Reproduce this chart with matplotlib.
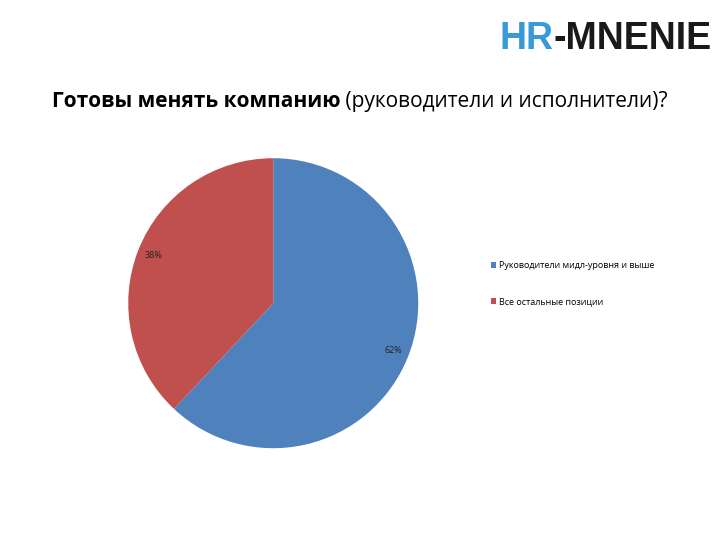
import matplotlib
matplotlib.use('Agg')
import matplotlib.pyplot as plt
from matplotlib.offsetbox import TextArea, HPacker, AnchoredOffsetbox

# --- data
labels = ['Руководители мидл-уровня и выше', 'Все остальные позиции']
shares = [62, 38]
colors = ['#4F81BD', '#C0504D']
title_bold = 'Готовы менять компанию'
title_rest = ' (руководители и исполнители)?'

plt.rcParams['font.family'] = ['Open Sans', 'DejaVu Sans']

fig = plt.figure(figsize=(7.2, 5.4), dpi=100)
fig.patch.set_facecolor('white')

ax = fig.add_axes([0.178, 0.170, 0.403, 0.537])
wedges, _, autotexts = ax.pie(shares, colors=colors, startangle=90, counterclock=False,
                              autopct='%1.0f%%', pctdistance=0.89,
                              textprops={'fontsize': 6.5, 'color': '#222222'})
ax.set_aspect('equal')
ax.set_xlim(-1, 1)
ax.set_ylim(-1, 1)

# legend on the right
fig.legend(wedges, labels, loc='upper left', bbox_to_anchor=(0.67, 0.532),
           frameon=False, fontsize=6.5, handlelength=0.6, handleheight=0.6,
           handletextpad=0.3, labelspacing=3.0)

# title: bold part + regular part
t1 = TextArea(title_bold, textprops=dict(fontsize=15, fontweight='bold', color='black'))
t2 = TextArea(title_rest, textprops=dict(fontsize=15, color='black'))
box = HPacker(children=[t1, t2], pad=0, sep=0, align='baseline')
anch = AnchoredOffsetbox(loc='center', child=box, frameon=False, pad=0, borderpad=0,
                         bbox_to_anchor=(0.5, 0.812), bbox_transform=fig.transFigure)
fig.add_artist(anch)

# logo, right aligned
logo_font = ['Liberation Sans Narrow', 'Liberation Sans', 'DejaVu Sans']
mn = fig.text(0.989, 0.91, '-MNENIE', fontsize=27, fontweight='bold',
              color='#1a1a1a', family=logo_font, va='baseline', ha='right')
fig.canvas.draw()
bb = mn.get_window_extent()
fig.text(bb.x0 / fig.bbox.width, 0.91, 'HR', fontsize=27, fontweight='bold',
         color='#3A9AD9', family=logo_font, va='baseline', ha='right')

fig.savefig('out.png', dpi=100, facecolor='white')
